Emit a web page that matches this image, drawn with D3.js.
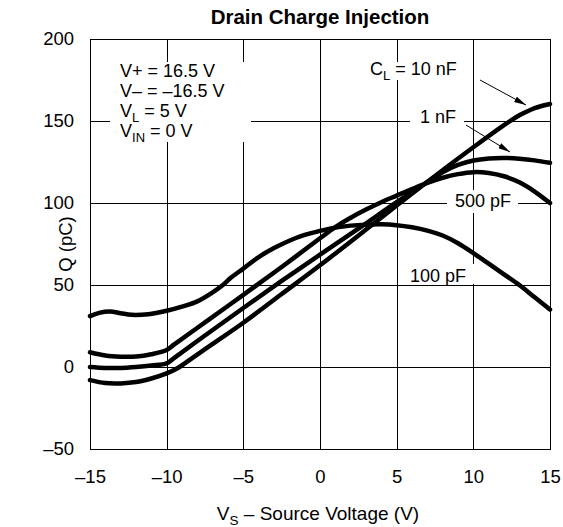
<!DOCTYPE html>
<html><head><meta charset="utf-8">
<script src="https://cdn.jsdelivr.net/npm/d3@7"></script>
<style>
body{margin:0;background:#fff}
svg{display:block}
text{font-family:"Liberation Sans",Arial,Helvetica,sans-serif;fill:#000}
</style>
</head><body>
<svg id="chart" width="563" height="527"></svg>
<script>
// ---- data ----
const xTicks = [-15, -10, -5, 0, 5, 10, 15];
const yTicks = [-50, 0, 50, 100, 150, 200];

const vs100pF = [-15,-14.4,-13.7,-13,-12.3,-11.2,-10,-9,-8,-7,-6.4,-5.8,-5,-4,-3,-2,-1,0,1,2,3,4,5,6,7,8,9,10,11,12,13,14,15];
const q100pF  = [31,33,33.8,32.8,31.8,32.2,34.3,36.8,40,45.5,49.5,54.5,60,67,72.5,77,80.5,83,85,86.2,86.8,87,86.5,85.2,83.2,80.2,75.5,69.5,63,56.5,50,42.5,35];

const vs500pF = [-15,-14,-13,-12,-11,-10,-9.5,-7.5,-5,-2.5,0,1,2,3,4,5,6,7,8,9,10,11,12,13,14,15];
const q500pF  = [9,7,6.3,6.4,7.8,10.4,13.8,27.2,44,61,78.5,85.3,91,96,100.5,104.5,108.5,112.3,115.4,117.6,118.8,118.3,116.3,112.6,107,100];

const vs1nF = [-15,-14,-13,-12,-11,-10,-9.5,-7.5,-5,-2.5,0,2.6,5,7,8,9,10,11,12,13,14,15];
const q1nF  = [0,-0.6,-0.6,0,0.9,2.2,5.6,19.2,36,52.5,68.5,85,100.5,112.8,118.8,123.2,125.9,127.2,127.5,127,126,124.5];

const vs10nF = [-15,-14,-13,-12,-11,-10,-9.3,-8.8,-7,-5,-2.5,0,3.3,5,7.5,10,12,13,13.5,14,14.5,15];
const q10nF  = [-8,-9.8,-10,-9.2,-7,-3.9,-0.8,2.4,14.1,27,44.5,62,86,98.5,116.5,134,147.5,153.5,155.8,157.8,159.3,160.4];

const series = [
  {name: "100 pF", vs: vs100pF, q: q100pF},
  {name: "500 pF", vs: vs500pF, q: q500pF},
  {name: "1 nF",   vs: vs1nF,   q: q1nF},
  {name: "10 nF",  vs: vs10nF,  q: q10nF}
];

// ---- layout ----
const svg = d3.select("#chart");
const L = 90, R = 550, T = 39, B = 449;
const x = d3.scaleLinear().domain([-15, 15]).range([L, R]);
const y = d3.scaleLinear().domain([-50, 200]).range([B, T]);
const fmt = d => d < 0 ? "\u2013" + Math.abs(d) : String(d);

// grid + tick labels
const gx = svg.append("g").attr("transform", `translate(0,${B})`)
  .call(d3.axisBottom(x).tickValues(xTicks).tickSize(-(B - T)).tickPadding(21).tickFormat(fmt));
const gy = svg.append("g").attr("transform", `translate(${L},0)`)
  .call(d3.axisLeft(y).tickValues(yTicks).tickSize(-(R - L)).tickPadding(16).tickFormat(fmt));
[gx, gy].forEach(g => {
  g.select(".domain").remove();
  g.selectAll("line").attr("stroke", "#000").attr("stroke-width", 1).attr("shape-rendering", "crispEdges");
  g.selectAll("text").attr("font-size", 18.5).attr("font-family", "Liberation Sans, Arial, sans-serif").attr("fill", "#000");
});

// white boxes behind labels (interrupting the grid)
const boxes = [
  [110, 62, 141, 80],
  [364, 62, 104, 18],
  [410, 110, 54, 20],
  [447, 190, 71, 23],
  [402, 264, 74, 20]
];
svg.append("g").selectAll("rect").data(boxes).join("rect")
  .attr("x", d => d[0]).attr("y", d => d[1]).attr("width", d => d[2]).attr("height", d => d[3])
  .attr("fill", "#fff");

// plot frame
svg.append("rect").attr("x", L).attr("y", T).attr("width", R - L).attr("height", B - T)
  .attr("fill", "none").attr("stroke", "#000").attr("stroke-width", 1).attr("shape-rendering", "crispEdges");

// curves
const line = d3.line().x(d => x(d[0])).y(d => y(d[1])).curve(d3.curveCatmullRom.alpha(0.5));
svg.append("g").selectAll("path").data(series).join("path")
  .attr("d", s => line(s.vs.map((v, i) => [v, s.q[i]])))
  .attr("fill", "none").attr("stroke", "#000").attr("stroke-width", 4.5)
  .attr("stroke-linecap", "round").attr("stroke-linejoin", "round");

// title
svg.append("text").attr("x", 320).attr("y", 24).attr("text-anchor", "middle")
  .attr("font-size", 20.5).attr("font-weight", "bold").text("Drain Charge Injection");

// axis titles
const xt = svg.append("text").attr("x", 318).attr("y", 520).attr("text-anchor", "middle").attr("font-size", 19);
xt.append("tspan").text("V");
xt.append("tspan").attr("font-size", 13.5).attr("dy", 5).text("S");
xt.append("tspan").attr("dy", -5).text(" \u2013 Source Voltage (V)");

svg.append("text").attr("transform", "translate(72,244) rotate(-90)").attr("text-anchor", "middle")
  .attr("font-size", 18.5).text("Q (pC)");

// condition block
function sub(sel, main, s, rest) {
  sel.append("tspan").text(main);
  sel.append("tspan").attr("font-size", 13).attr("dy", 5).text(s);
  sel.append("tspan").attr("dy", -5).text(rest);
}
const cond = svg.append("g").attr("font-size", 18);
cond.append("text").attr("x", 120).attr("y", 77).text("V+ = 16.5 V");
cond.append("text").attr("x", 120).attr("y", 97).text("V\u2013 = \u201316.5 V");
sub(cond.append("text").attr("x", 120).attr("y", 117), "V", "L", " = 5 V");
sub(cond.append("text").attr("x", 120).attr("y", 137), "V", "IN", " = 0 V");

// series labels
const lab = svg.append("g").attr("font-size", 18);
sub(lab.append("text").attr("x", 370).attr("y", 75), "C", "L", " = 10 nF");
lab.append("text").attr("x", 420).attr("y", 123).text("1 nF");
lab.append("text").attr("x", 455).attr("y", 207).text("500 pF");
lab.append("text").attr("x", 410).attr("y", 282).text("100 pF");

// arrows
svg.append("defs").append("marker").attr("id", "ah")
  .attr("viewBox", "0 0 12 6").attr("refX", 12).attr("refY", 3)
  .attr("markerWidth", 12).attr("markerHeight", 6).attr("markerUnits", "userSpaceOnUse")
  .attr("orient", "auto")
  .append("path").attr("d", "M0,0 L12,3 L0,6 Z").attr("fill", "#000");
const arrows = [[480, 80, 526, 105], [466, 125, 510, 152]];
svg.append("g").selectAll("line").data(arrows).join("line")
  .attr("x1", d => d[0]).attr("y1", d => d[1]).attr("x2", d => d[2]).attr("y2", d => d[3])
  .attr("stroke", "#000").attr("stroke-width", 1).attr("marker-end", "url(#ah)");
</script>
</body></html>
